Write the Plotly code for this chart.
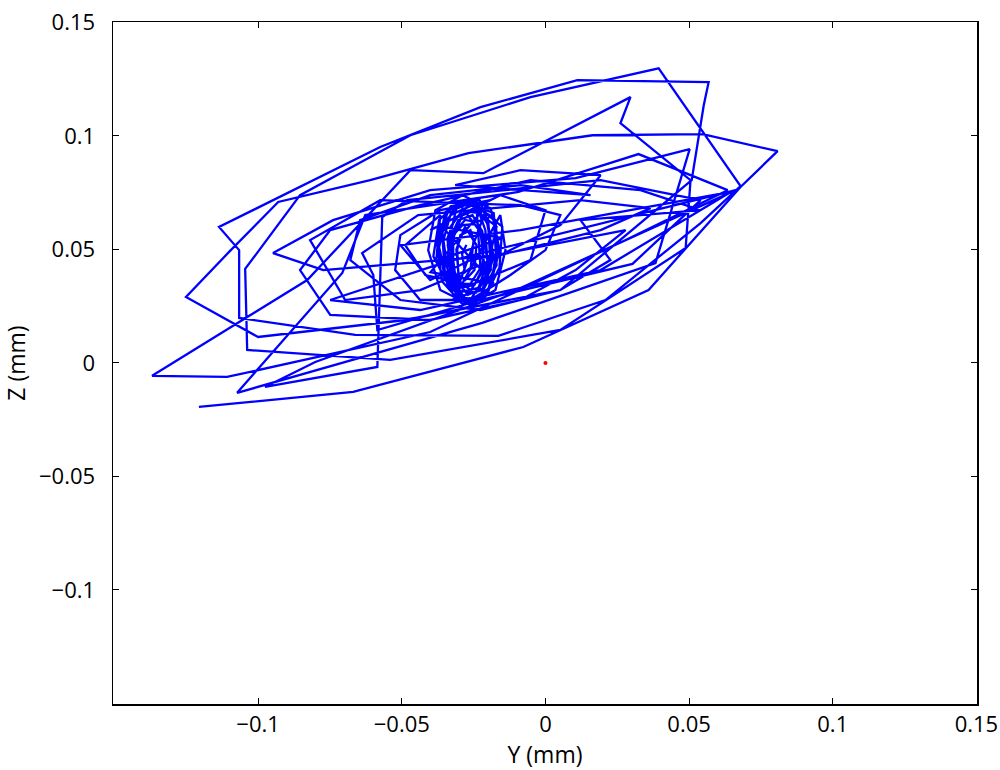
import plotly.graph_objects as go

# Outer trajectory (Y, Z in mm)
y_outer = [-0.1206, -0.0669, -0.0077, 0.0359, 0.0679, 0.0808, 0.0547, 0.0164, -0.0268, -0.0610,
           -0.0930, -0.1101, -0.1251, -0.1000, -0.0488, 0.0052, 0.0509, 0.0551, 0.0568, 0.0111,
           -0.0226, -0.0575, -0.1136, -0.1066, -0.1066, -0.0662, -0.0164, 0.0209, 0.0540, 0.0679,
           0.0394, -0.0052, -0.0470, -0.0854, -0.1045, -0.1038, -0.0540, 0.0052, 0.0488, 0.0505,
           0.0261, 0.0296, -0.0216, -0.0470, -0.0829, -0.1369, -0.1108, -0.0401, 0.0272, 0.0634,
           0.0324, -0.0094, -0.0627, -0.0707, -0.1073, -0.0220, 0.0383, 0.0502, 0.0105, -0.0401,
           -0.0739, -0.0948, -0.0773, -0.0157, 0.0192, 0.0366, 0.0122, -0.0443, -0.0638, -0.0599,
           -0.0585, -0.0226, 0.0303, 0.0540, 0.0192, -0.0481, -0.0568, -0.0585, -0.0976, -0.0801,
           -0.0087, 0.0662, -0.0348, -0.0749, -0.0436, 0.0192, 0.0645, -0.0087, -0.0505, -0.0401,
           -0.0261]
z_outer = [-0.0194, -0.0128, 0.0070, 0.0321, 0.0775, 0.0933, 0.1008, 0.1003, 0.0924, 0.0805,
           0.0709, 0.0489, 0.0290, 0.0114, 0.0189, 0.0321, 0.0805, 0.1135, 0.1237, 0.1246,
           0.1127, 0.0951, 0.0599, 0.0497, 0.0198, 0.0123, 0.0119, 0.0277, 0.0616, 0.0779,
           0.1298, 0.1171, 0.1003, 0.0739, 0.0414, 0.0057, 0.0013, 0.0145, 0.0506, 0.0805,
           0.1056, 0.1171, 0.0836, 0.0849, 0.0365, -0.0057, -0.0062, 0.0136, 0.0537, 0.0761,
           0.0920, 0.0753, 0.0651, 0.0396, -0.0132, 0.0176, 0.0440, 0.0942, 0.0814, 0.0761,
           0.0629, 0.0484, 0.0409, 0.0475, 0.0585, 0.0682, 0.0717, 0.0651, 0.0484, 0.0387,
           0.0145, 0.0277, 0.0436, 0.0717, 0.0805, 0.0717, 0.0643, -0.0018, -0.0106, 0.0004,
           0.0330, 0.0761, 0.0444, 0.0277, 0.0233, 0.0409, 0.0753, 0.0585, 0.0519, 0.0365,
           0.0453]

# Medium loops
y_mid = [0.0279, 0.0105, -0.0087, -0.0401, -0.0749, -0.0854, -0.0749, -0.0436, -0.0052, 0.0331, 0.0540,
         0.0122, 0.0226, 0.0052, -0.0226, -0.0505, -0.0679, -0.0645, -0.0401, -0.0087, 0.0157,
         -0.0314, -0.0087, 0.0192, 0.0052, -0.0226, -0.0436, -0.0697, -0.0819, -0.0575,
         -0.0087, 0.0052, 0.0000, -0.0122, -0.0261, -0.0436, -0.0523, -0.0505, -0.0366, -0.0192,
         -0.0401, -0.0157, 0.0000, -0.0052, -0.0261, -0.0418, -0.0488, -0.0366,
         -0.038, -0.015, -0.036, -0.018, -0.040, -0.020, -0.032]
z_mid = [0.0585, 0.0409, 0.0277, 0.0189, 0.0211, 0.0409, 0.0585, 0.0695, 0.0805, 0.0761, 0.0673,
         0.0629, 0.0453, 0.0321, 0.0233, 0.0277, 0.0453, 0.0629, 0.0739, 0.0783, 0.0739,
         0.0783, 0.0849, 0.0827, 0.0607, 0.0431, 0.0321, 0.0277, 0.0541, 0.0717,
         0.0695, 0.0651, 0.0497, 0.0387, 0.0277, 0.0277, 0.0409, 0.0563, 0.0673, 0.0717,
         0.0585, 0.0739, 0.0673, 0.0453, 0.0343, 0.0387, 0.0519, 0.0651,
         0.045, 0.055, 0.060, 0.035, 0.040, 0.070, 0.028]

# Inner (settling) loops around the centre
y_inner = [-0.0157, -0.0139, -0.0174, -0.0261, -0.0366, -0.0408, -0.0383, -0.0289,
           -0.019, -0.016, -0.020, -0.027, -0.034, -0.037, -0.034, -0.027,
           -0.0174, -0.0164, -0.0199, -0.0279, -0.0348, -0.0373, -0.0348, -0.0261,
           -0.021, -0.018, -0.022, -0.029, -0.036, -0.038, -0.033, -0.025,
           -0.0199, -0.0185, -0.0220, -0.0289, -0.0338, -0.0355, -0.0331, -0.0254,
           -0.018, -0.017, -0.023, -0.030, -0.035, -0.036, -0.031, -0.024,
           -0.0150, -0.0160, -0.0210, -0.0270, -0.0320, -0.0340, -0.0310, -0.0230,
           -0.020, -0.019, -0.024, -0.031, -0.034, -0.033, -0.029, -0.023,
           -0.0209, -0.0202, -0.0233, -0.0296, -0.0331, -0.0341, -0.0314, -0.0244,
           -0.017, -0.021, -0.026, -0.032, -0.039, -0.037, -0.030, -0.022,
           -0.0180, -0.0170, -0.0190, -0.0250, -0.0310, -0.0350, -0.0360, -0.0300,
           -0.0226, -0.0213, -0.0247, -0.0303, -0.0324, -0.0331, -0.0303, -0.0254,
           -0.022, -0.020, -0.025, -0.030, -0.033, -0.032, -0.028, -0.024,
           -0.0200, -0.0190, -0.0215, -0.0270, -0.0320, -0.0330, -0.0290, -0.0240,
           -0.0233, -0.0226, -0.0261, -0.0310, -0.0321, -0.0321, -0.0289, -0.0247,
           -0.0215, -0.0220, -0.0260, -0.0300, -0.0310, -0.0280,
           -0.0240, -0.0247, -0.0279, -0.0303, -0.0307, -0.0296, -0.0261,
           -0.0250, -0.0260, -0.0280, -0.0290, -0.0275]
z_inner = [0.0651, 0.0497, 0.0321, 0.0255, 0.0321, 0.0497, 0.0673, 0.0739,
           0.068, 0.050, 0.032, 0.027, 0.034, 0.051, 0.067, 0.072,
           0.0629, 0.0475, 0.0312, 0.0277, 0.0365, 0.0519, 0.0665, 0.0717,
           0.066, 0.047, 0.030, 0.026, 0.036, 0.055, 0.069, 0.071,
           0.0607, 0.0453, 0.0321, 0.0295, 0.0387, 0.0541, 0.0651, 0.0695,
           0.064, 0.043, 0.029, 0.028, 0.040, 0.058, 0.070, 0.069,
           0.0600, 0.0420, 0.0290, 0.0270, 0.0350, 0.0520, 0.0680, 0.0720,
           0.062, 0.041, 0.031, 0.032, 0.045, 0.060, 0.067, 0.066,
           0.0585, 0.0444, 0.0330, 0.0312, 0.0409, 0.0550, 0.0638, 0.0673,
           0.060, 0.038, 0.028, 0.030, 0.047, 0.063, 0.071, 0.068,
           0.0660, 0.0500, 0.0340, 0.0260, 0.0300, 0.0450, 0.0600, 0.0700,
           0.0577, 0.0431, 0.0343, 0.0330, 0.0431, 0.0550, 0.0629, 0.0651,
           0.058, 0.044, 0.034, 0.034, 0.046, 0.057, 0.063, 0.062,
           0.0640, 0.0480, 0.0330, 0.0300, 0.0380, 0.0520, 0.0650, 0.0690,
           0.0550, 0.0418, 0.0348, 0.0348, 0.0453, 0.0563, 0.0607, 0.0612,
           0.0560, 0.0400, 0.0320, 0.0360, 0.0500, 0.0600,
           0.0519, 0.0409, 0.0365, 0.0387, 0.0497, 0.0563, 0.0585,
           0.0540, 0.0420, 0.0400, 0.0480, 0.0520]

ref_y = [0.0]
ref_z = [0.0]

x_ticks = [-0.1, -0.05, 0, 0.05, 0.1, 0.15]
x_labels = ["\u22120.1", "\u22120.05", "0", "0.05", "0.1", "0.15"]
y_ticks = [-0.1, -0.05, 0, 0.05, 0.1, 0.15]
y_labels = ["\u22120.1", "\u22120.05", "0", "0.05", "0.1", "0.15"]

fig = go.Figure()
fig.add_trace(go.Scatter(x=y_outer + y_mid + y_inner, y=z_outer + z_mid + z_inner, mode="lines",
                         line=dict(color="#0000FF", width=2.3), showlegend=False))
fig.add_trace(go.Scatter(x=ref_y, y=ref_z, mode="markers",
                         marker=dict(color="#FF0000", size=4), showlegend=False))

tick_font = dict(family="Open Sans, Noto Sans, sans-serif", size=22, color="black")
title_font = dict(family="Open Sans, Noto Sans, sans-serif", size=23, color="black")
axis_common = dict(showgrid=False, zeroline=False, showline=True, linecolor="black",
                   linewidth=1.5, mirror="ticks", ticks="inside", ticklen=6,
                   tickcolor="black", tickwidth=1, tickfont=tick_font, automargin=False,
                   ticklabeloverflow="allow")

fig.update_xaxes(range=[-0.1505, 0.1502], tickvals=x_ticks, ticktext=x_labels,
                 ticklabelstandoff=0,
                 title=dict(text="Y (mm)", font=title_font, standoff=0), **axis_common)
fig.update_yaxes(range=[-0.1503, 0.1502], tickvals=y_ticks, ticktext=y_labels,
                 ticklabelstandoff=12,
                 title=dict(text="Z (mm)", font=title_font, standoff=15), **axis_common)

fig.update_layout(width=1000, height=770, paper_bgcolor="white", plot_bgcolor="white",
                  margin=dict(l=113, r=23, t=22, b=66), font=tick_font, hovermode=False)

fig.write_html("out.html", config={"displayModeBar": False, "staticPlot": True},
               post_script="document.body.style.margin='0';document.body.style.overflow='hidden';")
